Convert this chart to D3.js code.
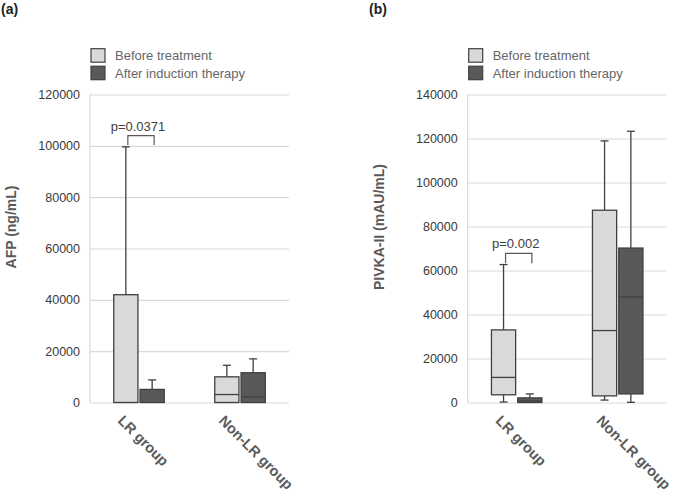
<!DOCTYPE html>
<html>
<head>
<meta charset="utf-8">
<script src="https://cdn.jsdelivr.net/npm/d3@7"></script>
<style>
  body { margin: 0; background: #fff; }
  svg { font-family: "Liberation Sans", Arial, sans-serif; }
</style>
</head>
<body>
<div id="chart"></div>
<script>
// Groups and phases
const categories = ["LR group", "Non-LR group"];
const phases = ["Before treatment", "After induction therapy"];
const phaseColors = ["#d9d9d9", "#595959"];

// Box summaries per category: [min, q1, median, q3, max]
const afpBefore = [[0, 0, 0, 42000, 99600], [0, 0, 3100, 10000, 14500]];
const afpAfter = [[0, 0, 0, 5100, 8800], [0, 0, 2200, 11600, 17000]];
const pivkaBefore = [[200, 3500, 11400, 33000, 62700], [1100, 3000, 32700, 87400, 118900]];
const pivkaAfter = [[0, 0, 700, 2100, 3900], [100, 3900, 48000, 70200, 123300]];

// Axis ticks
const afpTicks = [0, 20000, 40000, 60000, 80000, 100000, 120000];
const pivkaTicks = [0, 20000, 40000, 60000, 80000, 100000, 120000, 140000];

// p-value brackets (LR group): label, leg bottom, bracket top
const afpP = { label: "p=0.0371", low: 100300, high: 104000 };
const pivkaP = { label: "p=0.002", low: 63300, high: 67800 };

const dimensions = { width: 685, height: 496, top: 94.5, bottom: 402.5, plotWidth: 199 };

const svg = d3
  .select("#chart")
  .append("svg")
  .attr("width", dimensions.width)
  .attr("height", dimensions.height);

function drawPanel(opts) {
  const ctrHeight = dimensions.bottom - dimensions.top;
  const ctr = svg
    .append("g")
    .attr("transform", `translate(${opts.left}, ${dimensions.top})`);

  const yScale = d3
    .scaleLinear()
    .domain([0, d3.max(opts.ticks)])
    .range([ctrHeight, 0]);

  const x0 = d3
    .scaleBand()
    .domain(categories)
    .range([0, dimensions.plotWidth])
    .paddingInner(0.5)
    .paddingOuter(0.235);

  const x1 = d3
    .scaleBand()
    .domain(phases)
    .range([0, x0.bandwidth()])
    .paddingInner(0.08);

  // gridlines
  ctr
    .append("g")
    .call(d3.axisLeft(yScale).tickValues(opts.ticks).tickSize(-dimensions.plotWidth).tickFormat(""))
    .call((g) => g.select(".domain").remove())
    .call((g) => g.selectAll("line").attr("stroke", "#d9d9d9").attr("stroke-width", 1.2));

  ctr
    .append("line")
    .attr("x1", 0)
    .attr("x2", 0)
    .attr("y1", 0)
    .attr("y2", ctrHeight)
    .attr("stroke", "#d9d9d9")
    .attr("stroke-width", 1.2);

  // tick labels
  ctr
    .append("g")
    .call(d3.axisLeft(yScale).tickValues(opts.ticks).tickSize(0).tickPadding(10).tickFormat(d3.format("d")))
    .call((g) => g.select(".domain").remove())
    .call((g) =>
      g.selectAll("text").attr("font-size", 12.5).attr("fill", "#3a3a3a").attr("font-family", "Liberation Sans, Arial, sans-serif")
    );

  // boxes
  const series = [opts.before, opts.after];
  series.forEach((values, si) => {
    values.forEach((v, ci) => {
      const [mn, q1, med, q3, mx] = v;
      const bx = x0(categories[ci]) + x1(phases[si]);
      const bw = x1.bandwidth();
      const cx = bx + bw / 2;
      const g = ctr.append("g").attr("stroke", "#404040").attr("stroke-width", 1.3);

      if (mx > q3) {
        g.append("line").attr("x1", cx).attr("x2", cx).attr("y1", yScale(q3)).attr("y2", yScale(mx));
        g.append("line").attr("x1", cx - 4).attr("x2", cx + 4).attr("y1", yScale(mx)).attr("y2", yScale(mx));
      }
      if (mn < q1) {
        g.append("line").attr("x1", cx).attr("x2", cx).attr("y1", yScale(q1)).attr("y2", yScale(mn));
        g.append("line").attr("x1", cx - 4).attr("x2", cx + 4).attr("y1", yScale(mn)).attr("y2", yScale(mn));
      }

      g.append("rect")
        .attr("x", bx)
        .attr("width", bw)
        .attr("y", yScale(q3))
        .attr("height", yScale(q1) - yScale(q3))
        .attr("fill", phaseColors[si]);

      if (med > q1) {
        g.append("line").attr("x1", bx).attr("x2", bx + bw).attr("y1", yScale(med)).attr("y2", yScale(med));
      }
    });
  });

  // p-value bracket between LR boxes
  const bl = x0(categories[0]) + x1(phases[0]) + x1.bandwidth() / 2 + 2;
  const br = x0(categories[0]) + x1(phases[1]) + x1.bandwidth() / 2 + 2;
  ctr
    .append("path")
    .attr(
      "d",
      `M${bl},${yScale(opts.p.low)}V${yScale(opts.p.high)}H${br}V${yScale(opts.p.low)}`
    )
    .attr("fill", "none")
    .attr("stroke", "#595959")
    .attr("stroke-width", 1.2);

  ctr
    .append("text")
    .attr("x", (bl + br) / 2 - 3)
    .attr("y", yScale(opts.p.high) - 5)
    .attr("text-anchor", "middle")
    .attr("font-size", 13)
    .attr("fill", "#404040")
    .text(opts.p.label);

  // x category labels
  categories.forEach((c) => {
    const cx = x0(c) + x0.bandwidth() / 2;
    ctr
      .append("text")
      .attr("transform", `translate(${cx - 22}, ${ctrHeight + 19}) rotate(45)`)
      .attr("text-anchor", "start")
      .attr("font-size", 14.5)
      .attr("font-weight", "bold")
      .attr("fill", "#5a5a5a")
      .text(c);
  });

  // legend
  phases.forEach((p, i) => {
    const ly = 48.7 - dimensions.top + i * 17.5;
    ctr
      .append("rect")
      .attr("x", 1)
      .attr("y", ly)
      .attr("width", 14)
      .attr("height", 13.5)
      .attr("fill", phaseColors[i])
      .attr("stroke", "#404040")
      .attr("stroke-width", 1.2);
    ctr
      .append("text")
      .attr("x", 25)
      .attr("y", ly + 11.5)
      .attr("font-size", 13)
      .attr("fill", "#666")
      .text(p);
  });

  // y title
  ctr
    .append("text")
    .attr("transform", `translate(${opts.titleX}, ${227 - dimensions.top}) rotate(-90)`)
    .attr("text-anchor", "middle")
    .attr("font-size", 14)
    .attr("font-weight", "bold")
    .attr("fill", "#595959")
    .text(opts.yTitle);

  // panel letter
  svg
    .append("text")
    .attr("x", opts.letterX)
    .attr("y", 14)
    .attr("font-size", 14)
    .attr("font-weight", "bold")
    .attr("fill", "#222")
    .text(opts.letter);
}

drawPanel({
  left: 90,
  ticks: afpTicks,
  before: afpBefore,
  after: afpAfter,
  p: afpP,
  yTitle: "AFP (ng/mL)",
  titleX: -74,
  letter: "(a)",
  letterX: 1,
});

drawPanel({
  left: 467.7,
  ticks: pivkaTicks,
  before: pivkaBefore,
  after: pivkaAfter,
  p: pivkaP,
  yTitle: "PIVKA-II (mAU/mL)",
  titleX: -84,
  letter: "(b)",
  letterX: 369,
});
</script>
</body>
</html>
